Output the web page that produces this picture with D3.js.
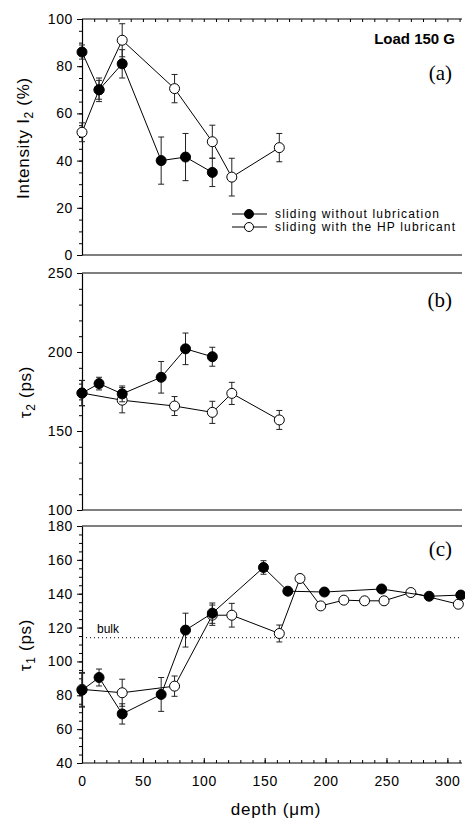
<!DOCTYPE html>
<html lang="en">
<head>
    <meta charset="UTF-8"/>
    <title>load 150 G</title>
    <script src="https://d3js.org/d3.v7.min.js"></script>
    <style type="text/css">
        body { margin: 0; background: #fff; }
        text { font-family: "Liberation Sans", Arial, sans-serif; fill: #000; }
        .tick text { font-size: 14px; letter-spacing: 0.6px; }
        .panel-tag { font-family: "Liberation Serif", "Times New Roman", serif; font-size: 21px; }
    </style>
</head>
<body>
<div id="chart"></div>
<script>

// depths (um) and values
var depthDryA = [0, 14, 33, 65, 85, 107];
var intensityDry = [86, 70, 81, 40, 41.5, 35];
var intensityDryErr = [3, 5, 6, 10, 10, 6];

var depthLubA = [0, 14, 33, 76, 107, 123, 162];
var intensityLub = [52, 70, 91, 70.5, 48, 33, 45.5];
var intensityLubErr = [4, 4, 7, 6, 7, 8, 6];

var depthDryB = [0, 14, 33, 65, 85, 107];
var tau2Dry = [174, 180, 173.5, 184, 202, 197];
var tau2DryErr = [8, 4, 5, 10, 10, 6];

var depthLubB = [0, 33, 76, 107, 123, 162];
var tau2Lub = [174, 169.5, 165.8, 161.8, 173.8, 157];
var tau2LubErr = [8, 8, 6, 7, 7, 6];

var depthDryC = [0, 14, 33, 65, 85, 107, 149, 169, 199, 246, 285, 311];
var tau1Dry = [83, 90.5, 69, 80.5, 118.5, 128.5, 155.5, 141.5, 141, 142.8, 138.5, 139.2];
var tau1DryErr = [10, 5, 6, 10, 10, 6, 4, 2, 2, 2, 2, 2];

var depthLubC = [0, 33, 76, 107, 123, 162, 179, 196, 215, 232, 248, 270, 309];
var tau1Lub = [83.5, 81.5, 85.4, 127.3, 127.3, 116.5, 149, 132.8, 136.2, 135.8, 135.8, 140.7, 133.8];
var tau1LubErr = [10, 8, 6, 6, 7, 5, 2, 2, 2, 2, 2, 2, 2];

var tau1Bulk = 114;
var xTicks = [0, 50, 100, 150, 200, 250, 300];
var legendLabels = ["sliding without lubrication", "sliding with the HP lubricant"];

function zip(xs, ys, es) {
  return xs.map(function(d, i) { return {x: d, y: ys[i], e: es[i]}; });
}

var width = 465, height = 823;
var left = 82, right = 462;

var svg = d3.select("#chart")
  .append("svg")
    .attr("width", width)
    .attr("height", height);

var x = d3.scaleLinear().domain([0, 312]).range([left, right]);

var panels = [
  {top: 19, bottom: 255, domain: [0, 100], major: 20, minor: 5, tag: "(a)", tagY: 80,
   dry: zip(depthDryA, intensityDry, intensityDryErr), lub: zip(depthLubA, intensityLub, intensityLubErr)},
  {top: 273, bottom: 510, domain: [100, 250], major: 50, minor: 10, tag: "(b)", tagY: 307,
   dry: zip(depthDryB, tau2Dry, tau2DryErr), lub: zip(depthLubB, tau2Lub, tau2LubErr)},
  {top: 526, bottom: 763, domain: [40, 180], major: 20, minor: 5, tag: "(c)", tagY: 556,
   dry: zip(depthDryC, tau1Dry, tau1DryErr), lub: zip(depthLubC, tau1Lub, tau1LubErr)}
];

panels.forEach(function(p, idx) {
  var y = d3.scaleLinear().domain(p.domain).range([p.bottom, p.top]);
  p.y = y;
  var g = svg.append("g");

  // minor ticks on the left axis
  g.append("g")
    .attr("transform", "translate(" + left + ",0)")
    .call(d3.axisLeft(y).tickValues(d3.range(p.domain[0], p.domain[1] + 0.1, p.minor))
      .tickSize(3).tickFormat(""))
    .call(function(a) { a.select(".domain").remove(); });

  // major ticks + labels
  g.append("g")
    .attr("transform", "translate(" + left + ",0)")
    .call(d3.axisLeft(y).tickValues(d3.range(p.domain[0], p.domain[1] + 0.1, p.major))
      .tickSize(5).tickSizeOuter(0).tickPadding(4))
    .call(function(a) { a.select(".domain").attr("stroke-width", 1.2); });

  // top & bottom frame lines
  g.append("line").attr("x1", left).attr("x2", right).attr("y1", p.top).attr("y2", p.top)
    .attr("stroke", "#000").attr("stroke-width", 1.2);
  g.append("line").attr("x1", left).attr("x2", right).attr("y1", p.bottom).attr("y2", p.bottom)
    .attr("stroke", "#000").attr("stroke-width", 1.2);

  g.append("text").attr("class", "panel-tag")
    .attr("x", 452).attr("y", p.tagY).attr("text-anchor", "end").text(p.tag);

  if (idx == 2) {
    g.append("line")
      .attr("x1", left).attr("x2", right)
      .attr("y1", y(tau1Bulk)).attr("y2", y(tau1Bulk))
      .attr("stroke", "#000").attr("stroke-dasharray", "1,3");
    g.append("text").attr("x", 97).attr("y", y(tau1Bulk) - 5)
      .attr("fill", "#000").style("font-size", "12px").text("bulk");
  }

  var line = d3.line().x(function(d) { return x(d.x); }).y(function(d) { return y(d.y); });

  [p.lub, p.dry].forEach(function(series, k) {
    g.append("path").datum(series)
      .attr("d", line).attr("fill", "none").attr("stroke", "#000").attr("stroke-width", 1);

    var eb = g.selectAll(".eb" + k).data(series).enter().append("g");
    eb.append("line")
      .attr("x1", function(d) { return x(d.x); }).attr("x2", function(d) { return x(d.x); })
      .attr("y1", function(d) { return y(d.y - d.e); }).attr("y2", function(d) { return y(d.y + d.e); })
      .attr("stroke", "#222");
    [1, -1].forEach(function(s) {
      eb.append("line")
        .attr("x1", function(d) { return x(d.x) - 3; }).attr("x2", function(d) { return x(d.x) + 3; })
        .attr("y1", function(d) { return y(d.y + s * d.e); }).attr("y2", function(d) { return y(d.y + s * d.e); })
        .attr("stroke", "#222");
    });

    g.selectAll(".pt" + k).data(series).enter().append("circle")
      .attr("cx", function(d) { return x(d.x); })
      .attr("cy", function(d) { return y(d.y); })
      .attr("r", 5)
      .attr("fill", k == 1 ? "#000" : "#fff")
      .attr("stroke", "#000");
  });
});

// top ticks of panel (a)
svg.append("g")
  .attr("transform", "translate(0," + panels[0].top + ")")
  .call(d3.axisBottom(x).tickValues(d3.range(0, 311, 10)).tickSize(3).tickFormat(""))
  .call(function(a) { a.select(".domain").remove(); });

// x axis of panel (c)
svg.append("g")
  .attr("transform", "translate(0," + panels[2].bottom + ")")
  .call(d3.axisTop(x).tickValues(d3.range(0, 311, 10)).tickSize(3).tickFormat(""))
  .call(function(a) { a.select(".domain").remove(); });
svg.append("g")
  .attr("transform", "translate(0," + panels[2].bottom + ")")
  .call(d3.axisBottom(x).tickValues(xTicks).tickSize(0).tickPadding(13))
  .call(function(a) { a.select(".domain").remove(); });
svg.append("g")
  .attr("transform", "translate(0," + panels[2].bottom + ")")
  .call(d3.axisTop(x).tickValues(xTicks).tickSize(5).tickFormat(""))
  .call(function(a) { a.select(".domain").remove(); });

// axis titles
svg.append("text").attr("x", 276).attr("y", 815)
  .attr("text-anchor", "middle").style("font-size", "17px").style("letter-spacing", "0.8px")
  .text("depth (\u03bcm)");

var t1 = svg.append("text").attr("transform", "translate(29,138) rotate(-90)")
  .attr("text-anchor", "middle").style("font-size", "17px").style("letter-spacing", "0.7px");
t1.append("tspan").text("Intensity I");
t1.append("tspan").attr("dy", 4).style("font-size", "12px").text("2");
t1.append("tspan").attr("dy", -4).text(" (%)");

var t2 = svg.append("text").attr("transform", "translate(31,392) rotate(-90)")
  .attr("text-anchor", "middle").style("font-size", "17px").style("letter-spacing", "0.7px");
t2.append("tspan").text("\u03c4");
t2.append("tspan").attr("dy", 4).style("font-size", "12px").text("2");
t2.append("tspan").attr("dy", -4).text(" (ps)");

var t3 = svg.append("text").attr("transform", "translate(31,645) rotate(-90)")
  .attr("text-anchor", "middle").style("font-size", "17px").style("letter-spacing", "0.7px");
t3.append("tspan").text("\u03c4");
t3.append("tspan").attr("dy", 4).style("font-size", "12px").text("1");
t3.append("tspan").attr("dy", -4).text(" (ps)");

svg.append("text").attr("x", 455).attr("y", 44).attr("text-anchor", "end")
  .style("font-size", "15px").style("font-weight", "bold").text("Load 150 G");

// legend
legendLabels.forEach(function(lab, i) {
  var ly = 214 + i * 13;
  svg.append("line").attr("x1", 232).attr("x2", 267).attr("y1", ly).attr("y2", ly).attr("stroke", "#000");
  svg.append("circle").attr("cx", 249).attr("cy", ly).attr("r", 4.5)
    .attr("fill", i == 0 ? "#000" : "#fff").attr("stroke", "#000");
  svg.append("text").attr("x", 275).attr("y", ly + 4).style("font-size", "12px")
    .attr("textLength", i == 0 ? 164 : 180).attr("lengthAdjust", "spacing").text(lab);
});

</script>
</body>
</html>
